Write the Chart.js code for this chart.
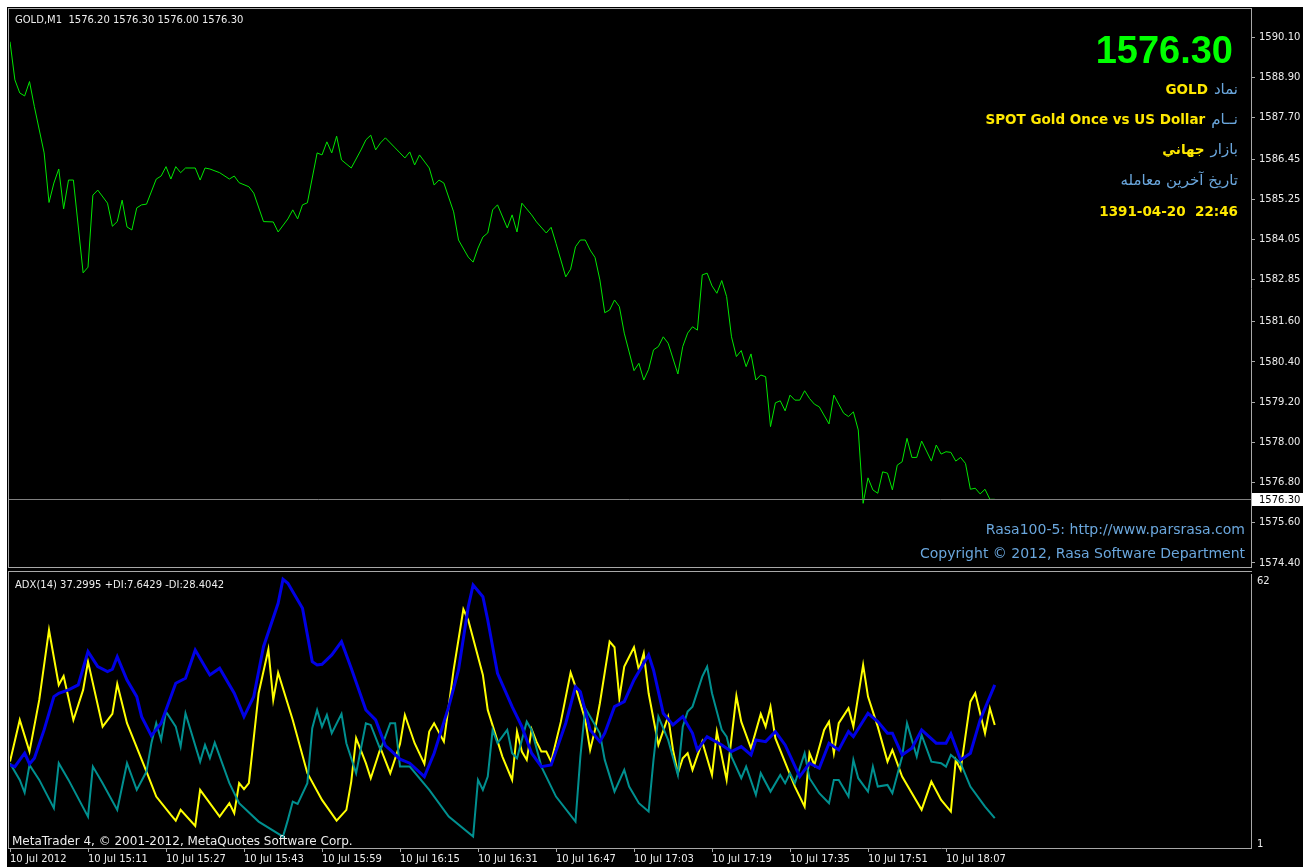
<!DOCTYPE html>
<html><head><meta charset="utf-8">
<script src="https://cdn.jsdelivr.net/npm/chart.js@4.4.1/dist/chart.umd.min.js"></script>
<style>
html,body{margin:0;padding:0;background:#fff;width:1303px;height:867px;overflow:hidden;}
#bg{position:absolute;left:7px;top:7px;width:1296px;height:860px;background:#000;}
canvas{position:absolute;left:0;}
#c1{top:0;}
#c2{top:570px;}
</style></head><body>
<div id="bg"></div>
<canvas id="c1" width="1303" height="570"></canvas>
<canvas id="c2" width="1303" height="297"></canvas>
<script>
// ---- data (x = minutes since 14:55, 10 Jul 2012, M1 bars) ----
const tickMinutes = [0,16,32,48,64,80,96,112,128,144,160,176,192];
const timeLabels = ["10 Jul 2012","10 Jul 15:11","10 Jul 15:27","10 Jul 15:43","10 Jul 15:59","10 Jul 16:15","10 Jul 16:31","10 Jul 16:47","10 Jul 17:03","10 Jul 17:19","10 Jul 17:35","10 Jul 17:51","10 Jul 18:07"];
const priceTicks = [1590.10,1588.90,1587.70,1586.45,1585.25,1584.05,1582.85,1581.60,1580.40,1579.20,1578.00,1576.80,1575.60,1574.40];
const lastPrice = 1576.30;

const priceMin = [0,1,2,3,4,5,7,8,9,10,11,12,13,15,16,17,18,20,21,22,23,24,25,26,27,28,30,31,32,33,34,35,36,38,39,40,41,43,45,46,47,49,50,52,54,55,57,58,59,60,61,63,64,65,66,67,68,70,72,73,74,75,76,77,79,80,81,82,83,84,86,87,88,89,91,92,94,95,96,97,98,99,100,102,103,104,105,107,108,110,111,112,114,115,116,117,118,119,120,121,122,123,124,125,126,128,129,130,131,132,133,134,135,137,138,139,140,141,142,143,144,145,146,147,148,149,150,151,152,153,154,155,156,157,158,159,160,161,162,163,164,165,166,168,169,170,171,172,173,174,175,176,177,178,179,180,181,182,183,184,185,186,187,189,190,191,192,193,194,195,196,197,198,199,200,201,202];
const priceVal = [1589.96,1588.82,1588.43,1588.34,1588.77,1588.02,1586.64,1585.16,1585.74,1586.16,1584.97,1585.83,1585.83,1583.06,1583.23,1585.38,1585.53,1585.14,1584.45,1584.59,1585.23,1584.43,1584.34,1585.00,1585.09,1585.11,1585.86,1585.95,1586.23,1585.86,1586.23,1586.05,1586.19,1586.19,1585.83,1586.19,1586.16,1586.05,1585.86,1585.95,1585.75,1585.63,1585.44,1584.59,1584.58,1584.28,1584.67,1584.94,1584.67,1585.09,1585.15,1586.64,1586.58,1586.97,1586.64,1587.14,1586.43,1586.19,1586.73,1587.03,1587.17,1586.73,1586.94,1587.09,1586.79,1586.64,1586.49,1586.67,1586.28,1586.58,1586.19,1585.68,1585.83,1585.74,1584.88,1584.04,1583.53,1583.38,1583.80,1584.13,1584.25,1584.94,1585.09,1584.40,1584.79,1584.28,1585.14,1584.79,1584.58,1584.25,1584.42,1583.94,1582.94,1583.17,1583.84,1584.04,1584.04,1583.74,1583.52,1582.85,1581.87,1581.95,1582.25,1582.05,1581.26,1580.14,1580.36,1579.86,1580.18,1580.76,1580.86,1581.15,1580.96,1580.04,1580.86,1581.26,1581.45,1581.35,1583.00,1583.05,1582.67,1582.45,1582.83,1582.35,1581.15,1580.56,1580.74,1580.26,1580.64,1579.86,1580.01,1579.96,1578.47,1579.18,1579.24,1578.94,1579.41,1579.26,1579.26,1579.54,1579.31,1579.14,1579.06,1578.55,1579.41,1579.14,1578.87,1578.77,1578.91,1578.37,1576.18,1576.94,1576.58,1576.48,1577.12,1577.08,1576.58,1577.32,1577.42,1578.12,1577.55,1577.55,1578.04,1577.44,1577.92,1577.65,1577.72,1577.70,1577.44,1577.55,1577.37,1576.60,1576.63,1576.46,1576.60,1576.30,1576.30];

const adxMin = [0,1,3,4,5,7,9,10,12,14,16,18,20,21,22,24,26,27,29,31,34,36,38,40,41,43,46,48,50,52,55,56,57,60,62,63,64,66,68,70,73,75,77,78,80,82,85,87,90,92,94,95,97,98,100,103,105,107,109,111,114,116,117,119,121,122,124,126,128,131,132,134,136,138,140,141,143,146,148,150,152,153,155,157,159,162,164,166,168,170,172,173,176,178,180,181,183,185,187,190,192,193,195,197,199,202];
const adxVal = [19.50,19.12,22.10,19.72,20.99,27.29,34.70,35.45,36.19,37.30,44.71,41.37,40.26,40.79,43.60,38.41,34.70,30.25,26.02,28.78,37.68,38.79,45.09,41.37,39.53,41.02,35.45,30.25,34.70,45.82,55.48,60.82,59.93,54.37,42.49,41.75,41.91,43.98,46.94,41.02,31.74,29.51,23.79,22.84,20.77,19.88,16.90,22.10,32.47,40.64,54.72,59.55,56.95,51.76,39.90,32.47,28.02,22.10,19.12,19.50,28.78,36.92,35.81,27.29,24.68,26.55,32.47,33.58,38.41,43.98,40.64,31.00,28.40,30.25,26.55,22.84,25.80,23.95,22.46,23.57,21.72,25.06,24.68,26.91,23.95,16.90,19.88,18.76,24.33,22.84,26.91,25.80,31.00,29.13,26.55,26.55,21.72,23.21,27.29,24.33,24.33,26.40,20.61,22.10,29.51,37.30];

const plusDiMin = [0,2,3,4,6,9,10,12,16,17,19,22,24,26,28,29,30,31,32,34,35,36,39,40,41,42,45,47,51,56,57,58,59,61,62,63,64,65,66,68,69,71,73,74,76,78,79,80,82,86,90,95,96,97,98,99,100,102,103,104,106,107,109,112,116,117,118,121,122,124,126,127,129,131,132,133,135,137,138,139,140,142,143,144,146,147,148,150,151,153,154,156,158,159,160,161,163,164,166,168,169,170,172,173,174,176,177,178,180,181,183,184,186,187,189,191,192,193,195,197,200,202];
const plusDiVal = [19.88,16.16,13.34,19.50,16.16,9.86,19.88,16.16,7.99,19.12,15.43,9.49,19.88,13.94,18.01,24.33,28.78,25.06,31.36,28.02,23.57,31.00,20.23,23.95,20.99,24.46,15.43,10.98,6.88,3.54,7.26,11.33,10.82,15.43,27.66,31.74,28.02,30.62,26.55,30.85,24.33,17.65,28.78,28.40,22.84,28.78,28.78,19.12,19.12,13.94,7.99,3.54,16.16,13.94,16.90,27.29,24.33,27.29,22.10,20.99,29.13,27.29,19.12,12.45,6.88,21.35,32.12,26.55,20.61,13.56,18.39,14.67,10.98,9.11,20.61,30.25,25.06,17.27,28.02,31.36,32.47,39.15,41.37,35.45,27.29,25.80,21.35,16.54,19.12,12.82,17.65,13.56,17.27,15.43,17.65,15.43,22.10,16.54,13.20,10.98,16.16,16.16,12.45,20.61,16.54,13.56,19.12,14.67,15.05,13.20,21.35,28.78,21.35,26.17,20.23,19.88,19.12,21.72,19.88,14.67,10.22,7.64];

const minusDiMin = [0,2,4,6,8,10,11,13,15,16,19,21,22,24,28,30,33,34,35,38,39,42,43,45,46,47,48,49,51,53,54,55,58,61,64,67,69,70,71,73,74,76,78,80,81,83,85,86,87,89,91,93,94,97,98,101,103,104,105,106,107,108,109,110,111,113,115,116,118,119,120,121,123,124,125,126,128,129,130,131,133,135,136,137,138,139,140,142,144,145,147,149,150,152,154,155,156,157,161,163,164,165,167,168,169,170,172,173,175,176,178,180,181,183,187,189,191,193,194,195,197,198,200,201,202];
const minusDiVal = [20.23,29.51,22.46,33.96,49.54,37.30,39.30,29.51,36.19,42.49,28.02,30.85,37.52,28.78,18.01,12.45,8.37,7.10,9.49,5.92,13.94,9.49,7.99,10.98,8.75,15.43,14.09,15.43,35.45,45.24,33.96,40.04,29.51,17.65,11.71,7.10,9.49,15.78,25.44,19.88,16.54,23.21,17.65,24.17,30.62,24.33,19.72,26.91,28.78,24.68,40.64,54.15,51.76,39.53,31.74,21.35,16.16,26.91,22.46,20.61,27.44,24.68,22.46,22.46,20.23,29.13,40.04,36.92,29.51,22.84,27.29,33.23,46.94,45.69,34.34,41.37,45.69,40.64,44.35,35.45,23.95,30.25,22.84,17.65,20.99,22.10,18.39,24.68,17.27,26.91,16.16,34.85,29.13,23.21,30.85,28.02,32.47,25.44,14.67,10.22,22.10,19.50,27.29,29.13,22.10,28.78,32.12,28.02,41.75,34.70,28.02,20.23,22.84,16.90,9.49,15.78,11.71,9.11,20.61,18.39,33.58,35.45,26.55,32.12,28.40];

// ---- layout constants ----
const X_MAX = (1251 - 10) / 4.875;
const FRAME = '#a8a8a8';
const TXT = '#ececec';
const INFO_BLUE = '#6aa6dc';
const INFO_YELLOW = '#ffe800';
const F = '"DejaVu Sans", Verdana, sans-serif';

function pts(xs, ys){ return xs.map((m,i)=>({x:m, y:ys[i]})); }

const mainOverlay = {
  id:'mainOverlay',
  afterDatasetsDraw(chart){
    const ctx = chart.ctx, ys = chart.scales.y;
    ctx.save();
    const py = Math.round(ys.getPixelForValue(lastPrice)) + 0.5;
    ctx.strokeStyle = '#808080'; ctx.lineWidth = 1;
    ctx.beginPath(); ctx.moveTo(8, py); ctx.lineTo(1251, py); ctx.stroke();
    ctx.restore();
  },
  afterDraw(chart){
    const ctx = chart.ctx, ys = chart.scales.y;
    ctx.save();
    // frame
    ctx.strokeStyle = FRAME; ctx.lineWidth = 1;
    ctx.beginPath();
    ctx.moveTo(8.5, 8); ctx.lineTo(8.5, 568);
    ctx.moveTo(8, 8.5); ctx.lineTo(1252, 8.5);
    ctx.moveTo(8, 567.5); ctx.lineTo(1252, 567.5);
    ctx.stroke();
    // last price box on axis
    const py = Math.round(ys.getPixelForValue(lastPrice));
    ctx.fillStyle = '#ffffff';
    ctx.fillRect(1252, py - 6, 51, 13);
    ctx.fillStyle = '#000000';
    ctx.font = '10px ' + F; ctx.textAlign = 'left'; ctx.textBaseline = 'middle';
    ctx.fillText(lastPrice.toFixed(2), 1259, py + 1);
    // header
    ctx.fillStyle = TXT; ctx.textBaseline = 'alphabetic';
    ctx.fillText('GOLD,M1  1576.20 1576.30 1576.00 1576.30', 15, 23);
    // big price
    ctx.textAlign = 'right';
    ctx.fillStyle = '#00ff00';
    ctx.font = 'bold 38px "Liberation Sans", Arial, sans-serif';
    ctx.fillText(lastPrice.toFixed(2), 1233, 63);
    // info lines
    const R = 1238;
    function pair(label, value, base){
      ctx.font = '15px ' + F; ctx.fillStyle = INFO_BLUE; ctx.textAlign = 'right';
      ctx.fillText(label, R, base);
      const w = ctx.measureText(label).width;
      if (value){
        ctx.font = 'bold 13.5px ' + F; ctx.fillStyle = INFO_YELLOW;
        ctx.fillText(value, R - w - 6, base);
      }
    }
    pair('نماد', 'GOLD', 94);
    pair('نــام', 'SPOT Gold Once vs US Dollar', 124);
    pair('بازار', 'جهاني', 154);
    pair('تاريخ آخرين معامله', null, 185);
    ctx.font = 'bold 13.5px ' + F; ctx.fillStyle = INFO_YELLOW; ctx.textAlign = 'right';
    ctx.fillText('1391-04-20  22:46', R, 216);
    // bottom right credits
    ctx.font = '14px ' + F; ctx.fillStyle = INFO_BLUE;
    ctx.fillText('Rasa100-5: http://www.parsrasa.com', 1245, 534);
    ctx.fillText('Copyright © 2012, Rasa Software Department', 1245, 558);
    ctx.restore();
  }
};

new Chart(document.getElementById('c1'), {
  type:'line',
  data:{datasets:[{data:pts(priceMin, priceVal), borderColor:'#00e600', borderWidth:1, pointRadius:0, tension:0, fill:false}]},
  options:{
    responsive:false, animation:false, events:[],
    layout:{padding:{left:10, top:9, right:0, bottom:3}},
    plugins:{legend:{display:false}, tooltip:{enabled:false}},
    scales:{
      x:{type:'linear', display:false, min:0, max:X_MAX},
      y:{position:'right', min:1574.279, max:1590.936,
        afterBuildTicks:s=>{ s.ticks = priceTicks.map(v=>({value:v})); },
        afterFit:s=>{ s.width = 52; s.paddingTop = 0; s.paddingBottom = 0; },
        grid:{drawOnChartArea:false, drawTicks:true, tickLength:4, color:FRAME},
        border:{display:true, color:FRAME},
        ticks:{autoSkip:false, color:TXT, padding:4, font:{family:'DejaVu Sans', size:10}, callback:v=>Number(v).toFixed(2)}
      }
    }
  },
  plugins:[mainOverlay]
});

const adxOverlay = {
  id:'adxOverlay',
  afterDraw(chart){
    const ctx = chart.ctx;
    ctx.save();
    ctx.strokeStyle = FRAME; ctx.lineWidth = 1;
    ctx.beginPath();
    ctx.moveTo(8, 1.5); ctx.lineTo(1252, 1.5);
    ctx.moveTo(8.5, 1); ctx.lineTo(8.5, 279);
    ctx.moveTo(8, 278.5); ctx.lineTo(11, 278.5);
    ctx.stroke();
    ctx.font = '10px ' + F; ctx.fillStyle = TXT; ctx.textAlign = 'left'; ctx.textBaseline = 'alphabetic';
    ctx.fillText('ADX(14) 37.2995 +DI:7.6429 -DI:28.4042', 15, 18);
    ctx.fillText('62', 1257, 14);
    ctx.fillText('1', 1257, 277);
    ctx.font = '12px ' + F;
    ctx.fillText('MetaTrader 4, © 2001-2012, MetaQuotes Software Corp.', 12, 275);
    ctx.restore();
  }
};

new Chart(document.getElementById('c2'), {
  type:'line',
  data:{datasets:[
    {label:'ADX', data:pts(adxMin, adxVal), borderColor:'#0000e6', borderWidth:3, pointRadius:0, tension:0, fill:false},
    {label:'+DI', data:pts(plusDiMin, plusDiVal), borderColor:'#009090', borderWidth:2, pointRadius:0, tension:0, fill:false},
    {label:'-DI', data:pts(minusDiMin, minusDiVal), borderColor:'#ffff00', borderWidth:2, pointRadius:0, tension:0, fill:false}
  ]},
  options:{
    responsive:false, animation:false, events:[],
    layout:{padding:{left:10, top:4, right:0, bottom:0}},
    plugins:{legend:{display:false}, tooltip:{enabled:false}},
    scales:{
      x:{type:'linear', min:0, max:X_MAX,
        afterBuildTicks:s=>{ s.ticks = tickMinutes.map(v=>({value:v})); },
        afterFit:s=>{ s.height = 19; s.paddingLeft = 0; s.paddingRight = 0; },
        grid:{drawOnChartArea:false, drawTicks:true, tickLength:4, color:FRAME},
        border:{display:true, color:FRAME},
        ticks:{align:'start', maxRotation:0, autoSkip:false, padding:1, color:TXT, font:{family:'DejaVu Sans', size:10}, callback:(v,i)=>timeLabels[i]}
      },
      y:{position:'right', min:1, max:62,
        afterFit:s=>{ s.width = 52; s.paddingTop = 0; s.paddingBottom = 0; },
        grid:{display:false},
        border:{display:true, color:FRAME},
        ticks:{display:false}
      }
    }
  },
  plugins:[adxOverlay]
});
</script>
</body></html>
